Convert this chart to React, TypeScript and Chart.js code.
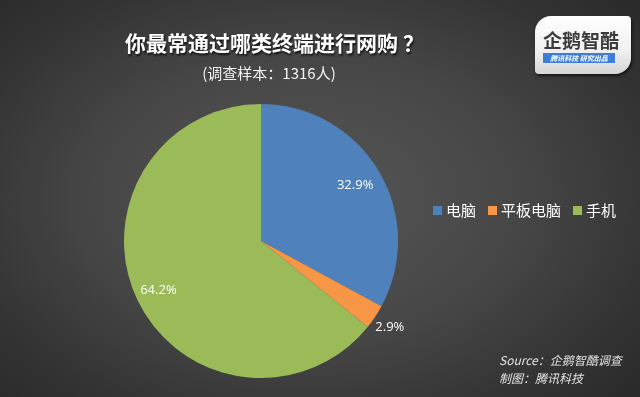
import React, { useEffect, useRef } from "react";
import { Chart, registerables } from "chart.js";

Chart.register(...registerables);

const categories = ["电脑", "平板电脑", "手机"];
const values = [32.9, 2.9, 64.2];
const colors = ["#4F81BD", "#F79646", "#9BBB59"];
const labelTexts = ["32.9%", "2.9%", "64.2%"];
const labelRadius = [0.8, 1.13, 0.83];

const titleMain = "你最常通过哪类终端进行网购";
const titleMark = "？";
const subtitle = "(调查样本：1316人)";

const labelPlugin = {
  id: "sliceLabels",
  afterDatasetsDraw(chart: any) {
    const ctx = chart.ctx;
    const meta = chart.getDatasetMeta(0);
    ctx.save();
    ctx.font = "13px 'Open Sans', 'Noto Sans', sans-serif";
    ctx.fillStyle = "#ffffff";
    ctx.textAlign = "center";
    ctx.textBaseline = "middle";
    meta.data.forEach((arc: any, i: number) => {
      const p = arc.getProps(["x", "y", "startAngle", "endAngle", "outerRadius"], true);
      const mid = (p.startAngle + p.endAngle) / 2;
      const r = p.outerRadius * labelRadius[i];
      ctx.fillText(labelTexts[i], p.x + Math.cos(mid) * r, p.y + Math.sin(mid) * r);
    });
    ctx.restore();
  },
};

export default function App() {
  const ref = useRef<HTMLCanvasElement>(null);
  useEffect(() => {
    const chart = new Chart(ref.current!, {
      type: "pie",
      data: {
        labels: categories,
        datasets: [
          {
            data: values,
            backgroundColor: colors,
            borderWidth: 0,
          },
        ],
      },
      options: {
        animation: false,
        responsive: false,
        maintainAspectRatio: false,
        layout: { padding: { top: 104, bottom: 19, left: 124, right: 242 } },
        plugins: { legend: { display: false }, tooltip: { enabled: false } },
      },
      plugins: [labelPlugin],
    });
    return () => chart.destroy();
  }, []);

  const font = "'Noto Sans CJK SC', 'Noto Sans', sans-serif";
  return (
    <div
      style={{
        position: "fixed",
        left: 0,
        top: 0,
        width: 640,
        height: 397,
        overflow: "hidden",
        background:
          "radial-gradient(ellipse 75% 80% at 48% 50%, #575757 0%, #464646 45%, #333333 75%, #262626 100%)",
        fontFamily: font,
      }}
    >
      <canvas ref={ref} width={640} height={397} style={{ position: "absolute", left: 0, top: 0 }} />
      <div
        style={{
          position: "absolute",
          left: 0,
          width: 549,
          top: 28,
          textAlign: "center",
          color: "#fff",
          fontSize: 21,
          fontWeight: 700,
          lineHeight: "28px",
          textShadow: "1px 2px 2px rgba(0,0,0,0.7)",
        }}
      >
        {titleMain}
        <span style={{ marginLeft: 5 }}>{titleMark}</span>
      </div>
      <div
        style={{
          position: "absolute",
          left: 0,
          width: 538,
          top: 62,
          textAlign: "center",
          color: "#f2f2f2",
          fontSize: 15,
          lineHeight: "22px",
        }}
      >
        {subtitle}
      </div>
      {/* legend */}
      <div
        style={{
          position: "absolute",
          left: 433,
          top: 200,
          display: "flex",
          alignItems: "center",
          color: "#fff",
          fontSize: 15,
          lineHeight: "20px",
        }}
      >
        {categories.map((c, i) => (
          <div key={c} style={{ display: "flex", alignItems: "center", marginRight: 12 }}>
            <span
              style={{ display: "inline-block", width: 9, height: 9, background: colors[i], marginRight: 4 }}
            />
            <span>{c}</span>
          </div>
        ))}
      </div>
      {/* logo */}
      <div
        style={{
          position: "absolute",
          left: 535,
          top: 16,
          width: 96,
          height: 58,
          borderRadius: "16px 4px 16px 4px",
          background: "linear-gradient(180deg, #ffffff 0%, #f0f0f0 60%, #d6d6d6 100%)",
          boxShadow: "1px 2px 3px rgba(0,0,0,0.6)",
        }}
      >
        <div
          style={{
            position: "absolute",
            left: 5,
            top: 13,
            width: 82,
            textAlign: "center",
            fontSize: 19,
            fontWeight: 700,
            color: "#3c3c3c",
            lineHeight: "22px",
          }}
        >
          企鹅智酷
        </div>
        <div
          style={{
            position: "absolute",
            left: 8,
            top: 37,
            width: 72,
            height: 10,
            background: "#3d7fd8",
            color: "#fff",
            fontSize: 7,
            lineHeight: "10px",
            fontStyle: "italic",
            textAlign: "center",
            fontWeight: 700,
          }}
        >
          腾讯科技 研究出品
        </div>
      </div>
      {/* source */}
      <div
        style={{
          position: "absolute",
          left: 499,
          top: 351,
          color: "#e0e0e0",
          fontSize: 12,
          fontStyle: "italic",
          lineHeight: "18px",
        }}
      >
        <div>Source：企鹅智酷调查</div>
        <div>制图：腾讯科技</div>
      </div>
    </div>
  );
}
